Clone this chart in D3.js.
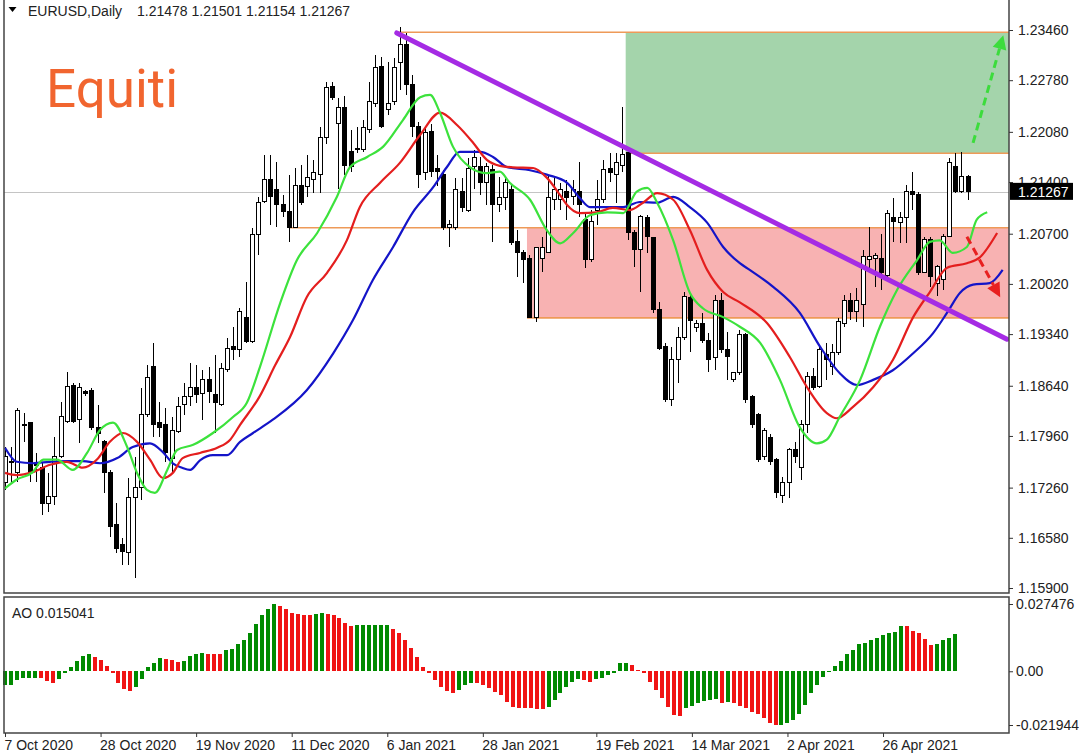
<!DOCTYPE html>
<html>
<head>
<meta charset="utf-8">
<script src="https://cdn.jsdelivr.net/npm/d3@7"></script>
<style>
    body { margin: 0; background: #fff; }
    svg { display: block; }
    text { font-family: "Liberation Sans", Arial, sans-serif; }
</style>
</head>
<body>
<div id="chart"></div>
<script>
//Velas diarias EURUSD [open, high, low, close]
const ohlc = [
[1.1733,1.1781,1.1723,1.1768],[1.1760,1.1781,1.1733,1.1762],[1.1746,1.1834,1.1733,1.1830],[1.1812,1.1827,1.1788,1.1810],[1.1814,1.1815,1.1733,1.1746],
[1.1760,1.1773,1.1733,1.1756],[1.1753,1.1761,1.1689,1.1705],[1.1705,1.1746,1.1693,1.1714],[1.1714,1.1794,1.1703,1.1768],[1.1768,1.1842,1.1766,1.1822],
[1.1815,1.1882,1.1814,1.1863],[1.1865,1.1868,1.1814,1.1815],[1.1818,1.1868,1.1787,1.1861],[1.1856,1.1858,1.1850,1.1854],[1.1858,1.1861,1.1804,1.1807],
[1.1808,1.1838,1.1787,1.1800],[1.1788,1.1791,1.1719,1.1746],[1.1746,1.1750,1.1659,1.1673],[1.1676,1.1705,1.1638,1.1644],[1.1649,1.1658,1.1621,1.1639],
[1.1638,1.1739,1.1621,1.1712],[1.1712,1.1768,1.1604,1.1726],[1.1726,1.1861,1.1709,1.1825],[1.1825,1.1892,1.1822,1.1875],[1.1890,1.1922,1.1795,1.1811],
[1.1814,1.1842,1.1795,1.1808],[1.1811,1.1834,1.1761,1.1773],[1.1766,1.1822,1.1746,1.1804],[1.1802,1.1849,1.1800,1.1836],[1.1838,1.1868,1.1825,1.1849],
[1.1849,1.1895,1.1836,1.1861],[1.1861,1.1892,1.1841,1.1852],[1.1854,1.1886,1.1818,1.1872],[1.1872,1.1890,1.1841,1.1856],[1.1852,1.1906,1.1800,1.1842],
[1.1838,1.1895,1.1836,1.1888],[1.1886,1.1929,1.1882,1.1915],[1.1917,1.1943,1.1899,1.1913],[1.1913,1.1970,1.1903,1.1964],[1.1956,1.2005,1.1922,1.1924],
[1.1924,1.2078,1.1922,1.2069],[1.2069,1.2120,1.2041,1.2112],[1.2113,1.2177,1.2112,1.2143],[1.2144,1.2177,1.2082,1.2120],[1.2130,1.2167,1.2079,1.2109],
[1.2109,1.2123,1.2093,1.2100],[1.2100,1.2150,1.2059,1.2079],[1.2079,1.2159,1.2078,1.2136],[1.2136,1.2163,1.2109,1.2112],[1.2134,1.2177,1.2120,1.2146],
[1.2143,1.2170,1.2125,1.2153],[1.2150,1.2214,1.2125,1.2200],[1.2200,1.2275,1.2191,1.2268],[1.2269,1.2275,1.2251,1.2254],[1.2220,1.2254,1.2130,1.2241],
[1.2241,1.2256,1.2150,1.2163],[1.2181,1.2211,1.2153,1.2161],[1.2186,1.2215,1.2180,1.2184],[1.2184,1.2224,1.2181,1.2214],[1.2211,1.2276,1.2207,1.2249],
[1.2247,1.2312,1.2242,1.2295],[1.2296,1.2310,1.2213,1.2215],[1.2238,1.2303,1.2231,1.2247],[1.2249,1.2308,1.2245,1.2295],[1.2302,1.2350,1.2265,1.2326],
[1.2326,1.2342,1.2258,1.2272],[1.2272,1.2285,1.2201,1.2215],[1.2215,1.2222,1.2132,1.2150],[1.2153,1.2215,1.2143,1.2207],[1.2208,1.2218,1.2147,1.2154],
[1.2158,1.2177,1.2134,1.2154],[1.2150,1.2157,1.2075,1.2078],[1.2078,1.2089,1.2052,1.2083],[1.2078,1.2146,1.2075,1.2130],[1.2127,1.2146,1.2100,1.2105],
[1.2102,1.2173,1.2100,1.2159],[1.2161,1.2184,1.2130,1.2173],[1.2161,1.2174,1.2123,1.2139],[1.2139,1.2166,1.2109,1.2161],[1.2157,1.2163,1.2059,1.2109],
[1.2109,1.2147,1.2100,1.2119],[1.2119,1.2147,1.2102,1.2139],[1.2130,1.2136,1.2055,1.2058],[1.2059,1.2075,1.2012,1.2044],[1.2045,1.2048,1.2003,1.2035],
[1.2037,1.2041,1.1956,1.1957],[1.1956,1.2051,1.1951,1.2051],[1.2037,1.2065,1.2018,1.2051],[1.2045,1.2150,1.2044,1.2119],[1.2116,1.2146,1.2102,1.2130],
[1.2116,1.2139,1.2102,1.2130],[1.2127,1.2143,1.2089,1.2119],[1.2120,1.2143,1.2109,1.2130],[1.2127,1.2167,1.2093,1.2109],[1.2089,1.2098,1.2024,1.2035],
[1.2035,1.2102,1.2032,1.2086],[1.2102,1.2143,1.2082,1.2116],[1.2116,1.2170,1.2112,1.2157],[1.2159,1.2180,1.2140,1.2153],[1.2150,1.2180,1.2112,1.2167],
[1.2163,1.2242,1.2154,1.2177],[1.2180,1.2181,1.2062,1.2071],[1.2071,1.2075,1.2025,1.2048],[1.2048,1.2096,1.1991,1.2093],[1.2092,1.2096,1.2044,1.2066],
[1.2065,1.2066,1.1963,1.1967],[1.1967,1.1978,1.1913,1.1915],[1.1917,1.1922,1.1842,1.1845],[1.1845,1.1917,1.1836,1.1899],[1.1899,1.1944,1.1868,1.1929],
[1.1929,1.1991,1.1926,1.1985],[1.1983,1.1987,1.1910,1.1953],[1.1943,1.1953,1.1937,1.1949],[1.1949,1.1963,1.1922,1.1926],[1.1926,1.1936,1.1883,1.1899],
[1.1902,1.1987,1.1886,1.1980],[1.1980,1.1990,1.1909,1.1913],[1.1913,1.1937,1.1872,1.1903],[1.1872,1.1883,1.1869,1.1882],[1.1882,1.1940,1.1879,1.1933],
[1.1933,1.1936,1.1841,1.1845],[1.1849,1.1852,1.1807,1.1811],[1.1825,1.1827,1.1761,1.1764],[1.1768,1.1807,1.1764,1.1804],[1.1794,1.1798,1.1757,1.1761],
[1.1764,1.1766,1.1712,1.1719],[1.1716,1.1741,1.1705,1.1733],[1.1733,1.1780,1.1712,1.1777],[1.1777,1.1788,1.1760,1.1768],[1.1753,1.1818,1.1737,1.1811],
[1.1811,1.1882,1.1800,1.1876],[1.1876,1.1888,1.1858,1.1861],[1.1863,1.1917,1.1861,1.1913],[1.1906,1.1922,1.1872,1.1899],[1.1890,1.1920,1.1879,1.1909],
[1.1909,1.1956,1.1906,1.1951],[1.1949,1.1987,1.1944,1.1980],[1.1980,1.1990,1.1953,1.1964],[1.1964,1.1997,1.1951,1.1980],[1.1974,1.2048,1.1943,1.2039],
[1.2035,1.2079,1.2017,1.2039],[1.2037,1.2044,1.1998,1.2041],[1.2037,1.2069,1.1994,1.2017],[1.2014,1.2102,1.2012,1.2098],[1.2092,1.2119,1.2059,1.2086],
[1.2085,1.2100,1.2058,1.2092],[1.2092,1.2136,1.2058,1.2127],[1.2127,1.2153,1.2102,1.2123],[1.2123,1.2127,1.2014,1.2018],[1.2018,1.2066,1.2017,1.2062],
[1.2062,1.2066,1.1998,1.2012],[1.2003,1.2028,1.1985,1.2025],[1.2008,1.2069,1.1994,1.2066],[1.2066,1.2173,1.2065,1.2166],[1.2161,1.2180,1.2125,1.2127],
[1.2127,1.2181,1.2125,1.2147],[1.21478,1.21501,1.21154,1.21267]
];

//Alligator: [barra, precio]
const jaw = [[0,1.1780],[1.9,1.1761],[4.5,1.1759],[7.3,1.1761],[10,1.1762],[12.6,1.1762],[15.4,1.1759],[18.2,1.1766],[20.7,1.1781],[23.5,1.1786],[25.6,1.1774],[27.2,1.1759],[28.7,1.1753],[30,1.1750],[31.6,1.1763],[33.7,1.1770],[36,1.1770],[38.1,1.1788],[40.2,1.1800],[43.4,1.1818],[48.9,1.1858],[53.2,1.1908],[56.4,1.1953],[59.6,1.2007],[62.9,1.2052],[66.1,1.2099],[69.4,1.2133],[71.6,1.2160],[73.7,1.2181],[77,1.2181],[79.1,1.2174],[81.4,1.2160],[85.1,1.2156],[87.8,1.2150],[91.1,1.2139],[93.2,1.2118],[94.8,1.2106],[97.6,1.2106],[100.2,1.2106],[102.9,1.2113],[105.7,1.2112],[108.3,1.2120],[111,1.2106],[113.8,1.2085],[116.4,1.2052],[119.1,1.2030],[120.7,1.2021],[124.5,1.1998],[128.8,1.1963],[132.1,1.1917],[135.3,1.1881],[138.1,1.1865],[140.7,1.1872],[143.9,1.1885],[147.2,1.1908],[150.4,1.1935],[152.7,1.1963],[154.8,1.1990],[156.9,1.2001],[159.6,1.2003],[161.7,1.2021]];
const teeth = [[0,1.1746],[1.9,1.1743],[4.5,1.1747],[7.3,1.1757],[10,1.1761],[12.6,1.1753],[14.9,1.1764],[17,1.1788],[19.1,1.1800],[21.4,1.1788],[23.5,1.1764],[25.6,1.1739],[27.2,1.1746],[28.8,1.1766],[31.6,1.1773],[34.4,1.1780],[36.5,1.1791],[38.1,1.1811],[41.3,1.1850],[43.8,1.1892],[46.2,1.1930],[48.9,1.1984],[52.2,1.2017],[55.4,1.2061],[57.5,1.2106],[60.8,1.2139],[64,1.2166],[67.3,1.2204],[70.5,1.2234],[73.3,1.2217],[75.9,1.2193],[78.1,1.2170],[80.2,1.2162],[82.3,1.2160],[85.6,1.2159],[87.8,1.2146],[90,1.2122],[91.1,1.2109],[93.2,1.2098],[95.9,1.2099],[98.5,1.2105],[101.3,1.2102],[103.4,1.2112],[105.7,1.2125],[108.3,1.2116],[111,1.2075],[113.8,1.2021],[116.4,1.1991],[119.1,1.1977],[123.5,1.1949],[127.2,1.1903],[130,1.1862],[133.2,1.1827],[134.8,1.1820],[137.4,1.1835],[140.7,1.1862],[143.9,1.1899],[147.2,1.1957],[149.9,1.1991],[152.7,1.2024],[155.9,1.2030],[158,1.2038],[160.8,1.2071]];
const lips = [[0,1.1725],[1.9,1.1737],[4.5,1.1747],[6.2,1.1764],[8.4,1.1764],[11,1.1750],[13.3,1.1773],[15.4,1.1804],[17.5,1.1814],[19.8,1.1781],[21.4,1.1746],[23,1.1723],[24.3,1.1719],[26.3,1.1750],[27.9,1.1777],[30.5,1.1784],[33.7,1.1800],[37,1.1822],[39.2,1.1841],[41.3,1.1889],[44.6,1.1976],[47.3,1.2034],[50.6,1.2071],[53.8,1.2120],[55.9,1.2160],[58.7,1.2174],[61.3,1.2188],[64.5,1.2224],[67.3,1.2255],[68.9,1.2258],[70.5,1.2234],[72.6,1.2188],[75.4,1.2160],[78.1,1.2152],[80.2,1.2154],[81.8,1.2139],[85.1,1.2116],[87.8,1.2075],[90,1.2057],[92.1,1.2071],[94.8,1.2095],[97.6,1.2099],[100.2,1.2098],[102.4,1.2127],[104.1,1.2132],[105.7,1.2112],[108.3,1.2061],[111,1.1990],[113.1,1.1969],[116.4,1.1957],[119.1,1.1944],[122.4,1.1922],[125.6,1.1872],[128.8,1.1808],[131.6,1.1786],[133.2,1.1791],[135.3,1.1822],[138.6,1.1872],[141.8,1.1944],[144.6,1.1994],[147.8,1.2034],[149.9,1.2059],[151.5,1.2061],[153.6,1.2044],[155.9,1.2052],[157.5,1.2089],[159.2,1.2099]];

//Awesome Oscillator
const aoValues = [
-0.0057,-0.0057,-0.0036,-0.0028,-0.0028,-0.0028,-0.0029,-0.0040,-0.0048,-0.0032,
-0.0008,0.0016,0.0040,0.0061,0.0069,0.0057,0.0048,0.0020,-0.0008,-0.0048,
-0.0073,-0.0081,-0.0065,-0.0032,0.0016,0.0032,0.0053,0.0052,0.0044,0.0036,
0.0040,0.0061,0.0069,0.0073,0.0072,0.0072,0.0071,0.0085,0.0093,0.0113,
0.0129,0.0158,0.0194,0.0230,0.0255,0.027476,0.0267,0.0255,0.0238,0.0234,
0.0230,0.0229,0.0234,0.0238,0.0234,0.0230,0.0218,0.0198,0.0186,0.0187,
0.0187,0.0187,0.0188,0.0188,0.0188,0.0174,0.0158,0.0129,0.0097,0.0057,
0.0016,-0.0008,-0.0036,-0.0065,-0.0081,-0.0089,-0.0077,-0.0057,-0.0048,-0.0049,
-0.0057,-0.0069,-0.0085,-0.0097,-0.0125,-0.0145,-0.0149,-0.0150,-0.0152,-0.0153,
-0.0154,-0.0145,-0.0117,-0.0089,-0.0065,-0.0044,-0.0032,-0.0036,-0.0044,-0.0032,
-0.0028,-0.0016,-0.0008,0.0032,0.0033,0.0024,0.0004,-0.0008,-0.0044,-0.0077,
-0.0109,-0.0145,-0.0178,-0.0182,-0.0149,-0.0141,-0.0129,-0.0121,-0.0117,-0.0113,
-0.0129,-0.0125,-0.0129,-0.0141,-0.0149,-0.0166,-0.0174,-0.0190,-0.0210,-0.021944,
-0.0218,-0.0210,-0.0198,-0.0174,-0.0137,-0.0089,-0.0057,-0.0024,0.0001,0.0020,
0.0040,0.0069,0.0085,0.0113,0.0117,0.0129,0.0137,0.0149,0.0158,0.0162,
0.0186,0.0185,0.0166,0.0158,0.0133,0.0109,0.0110,0.0129,0.0137,0.015041
];

//Ejes
const priceTicks = [1.23460,1.22780,1.22080,1.21400,1.20700,1.20020,1.19340,1.18640,1.17960,1.17260,1.16580,1.15900];
const aoTicks = [0.027476, 0, -0.021944];
const dateLabels = ['7 Oct 2020','28 Oct 2020','19 Nov 2020','11 Dec 2020','6 Jan 2021','28 Jan 2021','19 Feb 2021','14 Mar 2021','2 Apr 2021','26 Apr 2021'];
const dateIdx = [0,16,32,48,64,80,99,115,131,147];
const lastPrice = 1.21267;
const aoLast = 0.015041;

//Dibujos: zonas [barra inicio, precio arriba, precio abajo], niveles [barra inicio, precio]
const greenZone = [100.6, 1.2343, 1.2179];
const redZone = [84.6, 1.2078, 1.1956];
const levels = [[63.7,1.2343],[100.6,1.2179],[46,1.2078],[84.6,1.1956]];
const trendLine = [[63.5,1.2342],[162.4,1.1927]];
const upArrow = [[156.9,1.2193],[161.8,1.2339]];
const downArrow = [[155.9,1.2066],[161.3,1.1984]];

//Colores
const COLOR_JAW = '#1414c8', COLOR_TEETH = '#e41e1e', COLOR_LIPS = '#3ce23c',
    COLOR_AO_UP = '#008a00', COLOR_AO_DOWN = '#f01414',
    COLOR_LEVEL = '#ee9a58', COLOR_TREND = '#a52be4', TXT = '#222';

const W = 1079, H = 753;
const plot = {left: 4, right: 1009, top: 0, bottom: 593};
const aoBox = {top: 597, bottom: 733};

let svg = d3.select('#chart').append('svg')
    .attr('width', W).attr('height', H);

let x = d3.scaleLinear().domain([0, 156]).range([5, 967.5]);
let y = d3.scaleLinear().domain([1.159, 1.2346]).range([588, 30]);
let xAo = d3.scaleLinear().domain([0, 159]).range([5, 954.7]);
let yAo = d3.scaleLinear().domain([-0.021944, 0.027476]).range([725, 604]);

svg.append('clipPath').attr('id', 'clipMain')
    .append('rect').attr('x', plot.left).attr('y', plot.top)
    .attr('width', plot.right - plot.left).attr('height', plot.bottom - plot.top);

let main = svg.append('g').attr('clip-path', 'url(#clipMain)');

//Zonas
main.append('rect')
    .attr('x', x(greenZone[0])).attr('y', y(greenZone[1]))
    .attr('width', plot.right - x(greenZone[0])).attr('height', y(greenZone[2]) - y(greenZone[1]))
    .attr('fill', '#a4d4ab');
main.append('rect')
    .attr('x', x(redZone[0])).attr('y', y(redZone[1]))
    .attr('width', plot.right - x(redZone[0])).attr('height', y(redZone[2]) - y(redZone[1]))
    .attr('fill', '#f8b2b2');

main.selectAll('.level').data(levels).enter().append('line')
    .attr('class', 'level')
    .attr('x1', d => x(d[0])).attr('x2', plot.right)
    .attr('y1', d => y(d[1])).attr('y2', d => y(d[1]))
    .attr('stroke', COLOR_LEVEL).attr('stroke-width', 1.6);

//Línea de precio actual
main.append('line')
    .attr('x1', plot.left).attr('x2', plot.right)
    .attr('y1', Math.round(y(lastPrice)) + 0.5).attr('y2', Math.round(y(lastPrice)) + 0.5)
    .attr('stroke', '#c4c4c4').attr('stroke-width', 1);

//Velas
let candles = main.append('g').attr('shape-rendering', 'crispEdges');
candles.selectAll('.wick').data(ohlc).enter().append('line')
    .attr('class', 'wick')
    .attr('x1', (d, i) => Math.round(x(i)) + 0.5).attr('x2', (d, i) => Math.round(x(i)) + 0.5)
    .attr('y1', d => y(d[1])).attr('y2', d => y(d[2]))
    .attr('stroke', '#000').attr('stroke-width', 1);
candles.selectAll('.body').data(ohlc).enter().append('rect')
    .attr('class', 'body')
    .attr('x', (d, i) => Math.round(x(i)) - 1.5)
    .attr('width', 4)
    .attr('y', d => y(Math.max(d[0], d[3])))
    .attr('height', d => Math.max(1, Math.abs(y(d[0]) - y(d[3]))))
    .attr('fill', d => d[3] >= d[0] ? '#fff' : '#000')
    .attr('stroke', '#000').attr('stroke-width', 1);

//Alligator
let maLine = d3.line().x(d => x(d[0])).y(d => y(d[1])).curve(d3.curveMonotoneX);
[[jaw, COLOR_JAW], [teeth, COLOR_TEETH], [lips, COLOR_LIPS]].forEach(function(s) {
    main.append('path').datum(s[0])
        .attr('fill', 'none').attr('stroke', s[1]).attr('stroke-width', 2.2)
        .attr('stroke-linejoin', 'round')
        .attr('d', maLine);
});

//Línea de tendencia
main.append('line')
    .attr('x1', x(trendLine[0][0])).attr('y1', y(trendLine[0][1]))
    .attr('x2', x(trendLine[1][0])).attr('y2', y(trendLine[1][1]))
    .attr('stroke', COLOR_TREND).attr('stroke-width', 5).attr('stroke-linecap', 'round');

//Flechas discontinuas
function arrow(pts, color) {
    let x1 = x(pts[0][0]), y1 = y(pts[0][1]), x2 = x(pts[1][0]), y2 = y(pts[1][1]);
    let len = Math.hypot(x2 - x1, y2 - y1), ux = (x2 - x1) / len, uy = (y2 - y1) / len;
    let hl = 14, hw = 7;
    let bx = x2 - ux * hl, by = y2 - uy * hl;
    main.append('line')
        .attr('x1', x1).attr('y1', y1).attr('x2', bx).attr('y2', by)
        .attr('stroke', color).attr('stroke-width', 3).attr('stroke-dasharray', '8,5');
    main.append('path')
        .attr('d', 'M' + x2 + ',' + y2 + 'L' + (bx - uy * hw) + ',' + (by + ux * hw) + 'L' + (bx + uy * hw) + ',' + (by - ux * hw) + 'Z')
        .attr('fill', color);
}
arrow(upArrow, '#3cdc3c');
arrow(downArrow, '#e82020');

//AO
let aoG = svg.append('g').attr('shape-rendering', 'crispEdges');
aoG.selectAll('rect').data(aoValues).enter().append('rect')
    .attr('x', (d, i) => Math.round(xAo(i)) - 2)
    .attr('width', 4)
    .attr('y', d => Math.min(yAo(d), yAo(0)))
    .attr('height', d => Math.max(1, Math.abs(yAo(d) - yAo(0))))
    .attr('fill', function(d, i) {
        //verde si sube, rojo si baja
        let up = true;
        for (let k = i; k > 0; k--) {
            if (aoValues[k] !== aoValues[k - 1]) { up = aoValues[k] > aoValues[k - 1]; break; }
        }
        return up ? COLOR_AO_UP : COLOR_AO_DOWN;
    });

//Marcos
let frame = svg.append('g').attr('stroke', '#444').attr('stroke-width', 1.5).attr('fill', 'none');
frame.append('path').attr('d', 'M' + plot.left + ',0V' + plot.bottom + 'H' + plot.right + 'V0');
frame.append('path').attr('d', 'M' + plot.left + ',' + aoBox.top + 'H' + plot.right + 'V' + aoBox.bottom + 'H' + plot.left + 'Z');

function styleAxis(g) {
    g.select('.domain').remove();
    g.selectAll('.tick line').attr('stroke', '#333');
    g.selectAll('.tick text').attr('fill', TXT).style('font-size', '14px')
        .style('font-family', '"Liberation Sans", Arial, sans-serif');
}

//Eje de precios
svg.append('g')
    .attr('transform', 'translate(' + plot.right + ',0)')
    .call(d3.axisRight(y).tickValues(priceTicks).tickSize(4).tickPadding(5).tickFormat(d3.format('.5f')))
    .call(styleAxis);

//Etiqueta del último precio
svg.append('rect')
    .attr('x', plot.right + 1).attr('y', y(lastPrice) - 9)
    .attr('width', 63).attr('height', 17).attr('fill', '#000');
svg.append('text')
    .attr('x', plot.right + 9).attr('y', y(lastPrice)).attr('dy', '0.35em')
    .attr('fill', '#fff').style('font-size', '14px')
    .text(d3.format('.5f')(lastPrice));

//Eje AO
svg.append('g')
    .attr('transform', 'translate(' + plot.right + ',0)')
    .call(d3.axisRight(yAo).tickValues(aoTicks).tickSize(4).tickPadding(3)
        .tickFormat(d => d === 0 ? '0.00' : String(d)))
    .call(styleAxis);

//Eje de fechas
svg.append('g')
    .attr('transform', 'translate(0,' + aoBox.bottom + ')')
    .call(d3.axisBottom(xAo).tickValues(dateIdx).tickSize(4).tickPadding(3)
        .tickFormat((d, i) => dateLabels[i]))
    .call(styleAxis)
    .call(g => g.selectAll('.tick text').attr('text-anchor', 'start').attr('x', -1));

//Textos
svg.append('path').attr('d', 'M8.5,7H16.5L12.5,12Z').attr('fill', '#000');
svg.append('text').attr('x', 28).attr('y', 16).attr('fill', TXT).style('font-size', '14px')
    .text('EURUSD,Daily');
svg.append('text').attr('x', 137).attr('y', 16).attr('fill', TXT).style('font-size', '14px')
    .text(ohlc[ohlc.length - 1].map(d => d3.format('.5f')(d)).join(' '));
svg.append('text').attr('x', 12).attr('y', 618).attr('fill', TXT).style('font-size', '14px')
    .text('AO ' + aoLast);
svg.append('text').attr('x', 46).attr('y', 107)
    .attr('fill', '#f1652f')
    .style('font-family', 'Roboto, "Liberation Sans", sans-serif').style('font-size', '53px')
    .text('Equiti');
</script>
</body>
</html>
